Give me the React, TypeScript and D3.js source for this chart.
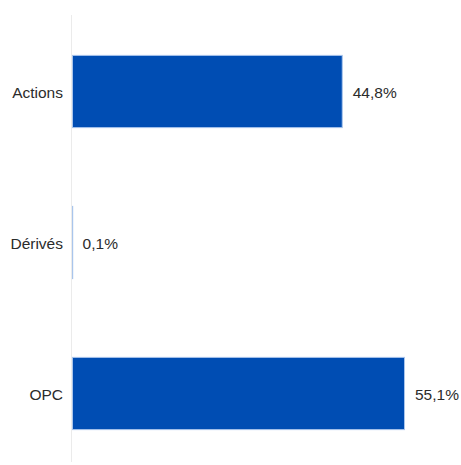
import { useMemo } from "react";
import * as d3 from "d3";

const WIDTH = 461;
const HEIGHT = 465;
const AXIS_X = 72;

const categories = ["Actions", "Dérivés", "OPC"];
const values = [44.8, 0.1, 55.1];
const valueLabels = ["44,8%", "0,1%", "55,1%"];

export default function App() {
  const xScale = useMemo(
    () => d3.scaleLinear().domain([0, 55.1]).range([AXIS_X, 405]),
    []
  );
  const yScale = useMemo(
    () =>
      d3.scaleBand().domain(categories).range([16, 469]).paddingInner(0.515).paddingOuter(0.2575),
    []
  );

  const bars = categories.map((c, i) => {
    const y = yScale(c) ?? 0;
    const x1 = xScale(values[i]);
    const w = x1 - AXIS_X;
    const cy = y + yScale.bandwidth() / 2;
    return (
      <g key={c}>
        {w > 2 ? (
          <rect
            x={AXIS_X + 0.5}
            y={y + 0.5}
            width={w - 1}
            height={yScale.bandwidth() - 1}
            fill="#004db3"
            stroke="#a9c5ec"
            strokeWidth={1}
          />
        ) : (
          <rect
            x={AXIS_X}
            y={y}
            width={1.2}
            height={yScale.bandwidth()}
            fill="#a9c5ec"
          />
        )}
        <text
          x={AXIS_X - 9}
          y={cy + 6}
          textAnchor="end"
          fontSize={15.5}
          fill="#2b2b2b"
        >
          {c}
        </text>
        <text x={x1 + 10} y={cy + 6} fontSize={15.5} fill="#2b2b2b">
          {valueLabels[i]}
        </text>
      </g>
    );
  });

  return (
    <div style={{ position: "fixed", left: 0, top: 0 }}>
      <svg width={WIDTH} height={HEIGHT} fontFamily="Liberation Sans, Arial, sans-serif" style={{ display: "block", background: "#fff" }}>
        <line x1={AXIS_X - 0.5} x2={AXIS_X - 0.5} y1={15} y2={462} stroke="#ebebeb" strokeWidth={1} />
        {bars}
      </svg>
    </div>
  );
}
